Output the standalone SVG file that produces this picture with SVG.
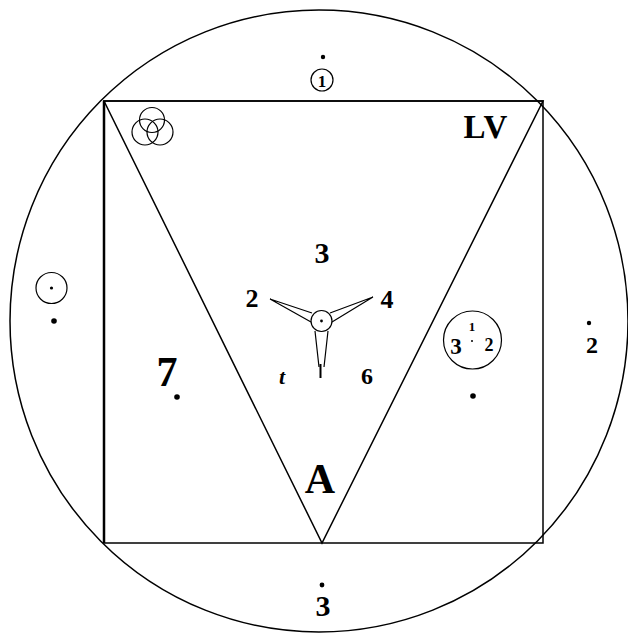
<svg xmlns="http://www.w3.org/2000/svg" width="628" height="634" viewBox="0 0 628 634">
<style>
.ln{fill:none;stroke:#000;stroke-width:1.5}
.thin{fill:none;stroke:#000;stroke-width:1.2}
.dot{fill:#000}
.t{font-family:"Liberation Serif",serif;font-weight:bold;fill:#000}
.b{font-family:"Liberation Serif",serif;font-weight:bold;fill:#000}
</style>
<rect width="628" height="634" fill="#fff"/>
<g id="frame">
<ellipse class="ln" cx="319" cy="321" rx="309" ry="311"/>
<rect class="ln" x="104" y="101" width="439" height="442"/>
<line x1="104" y1="101" x2="104" y2="543" stroke="#000" stroke-width="2.5"/>
<polygon class="ln" points="104,101 543,101 322,543"/>
</g>
<g id="top-one">
<circle class="dot" cx="323" cy="57" r="2.2"/>
<circle class="thin" cx="322" cy="80" r="11"/>
<text class="t" x="322" y="87" font-size="17" text-anchor="middle">1</text>
</g>
<g id="trinity">
<circle class="thin" cx="152" cy="120" r="12.5"/>
<circle class="thin" cx="145" cy="132" r="13"/>
<circle class="thin" cx="160" cy="132" r="13"/>
</g>
<g id="lv"><text class="b" x="486" y="138" font-size="33" text-anchor="middle" letter-spacing="1">LV</text></g>
<g id="center">
<text class="t" x="322" y="263" font-size="30" text-anchor="middle">3</text>
<text class="t" x="252" y="307" font-size="26" text-anchor="middle">2</text>
<text class="t" x="387" y="308" font-size="26" text-anchor="middle">4</text>
<text class="t" x="282" y="384" font-size="22" font-style="italic" text-anchor="middle">t</text>
<text class="t" x="367" y="384" font-size="24" text-anchor="middle">6</text>
<circle class="thin" cx="321.5" cy="321" r="10.5"/>
<circle class="dot" cx="321.5" cy="321" r="1.4"/>
<g class="thin">
<path d="M270,299 L312,313 M270,299 L311,322"/>
<path d="M373,297 L330,313 M373,297 L332,322"/>
<path d="M315,331 L319,367 M328,331 L324,367"/>
<line x1="320.5" y1="364" x2="320.5" y2="378" stroke-width="2"/>
</g>
</g>
<g id="left-sun">
<circle class="thin" cx="51.5" cy="288" r="15.5"/>
<circle class="dot" cx="51.5" cy="288" r="1.6"/>
<circle class="dot" cx="54" cy="321" r="2.8"/>
</g>
<g id="right-circle">
<circle class="thin" cx="472.5" cy="340" r="29"/>
<text class="t" x="472" y="331" font-size="13" text-anchor="middle">1</text>
<text class="t" x="456" y="354" font-size="23" text-anchor="middle">3</text>
<text class="t" x="489" y="351" font-size="18" text-anchor="middle">2</text>
<circle class="dot" cx="472" cy="341" r="1"/>
<circle class="dot" cx="473" cy="396" r="2.8"/>
</g>
<g id="right-two">
<circle class="dot" cx="589" cy="323" r="2.2"/>
<text class="t" x="592" y="353" font-size="24" text-anchor="middle">2</text>
</g>
<g id="seven">
<text class="b" x="167" y="386" font-size="42" text-anchor="middle">7</text>
<circle class="dot" cx="177" cy="397" r="2.8"/>
</g>
<g id="a"><text class="b" x="320" y="493" font-size="42" text-anchor="middle">A</text></g>
<g id="bottom-three">
<circle class="dot" cx="322" cy="585" r="2.4"/>
<text class="t" x="323" y="616" font-size="30" text-anchor="middle">3</text>
</g>
</svg>
